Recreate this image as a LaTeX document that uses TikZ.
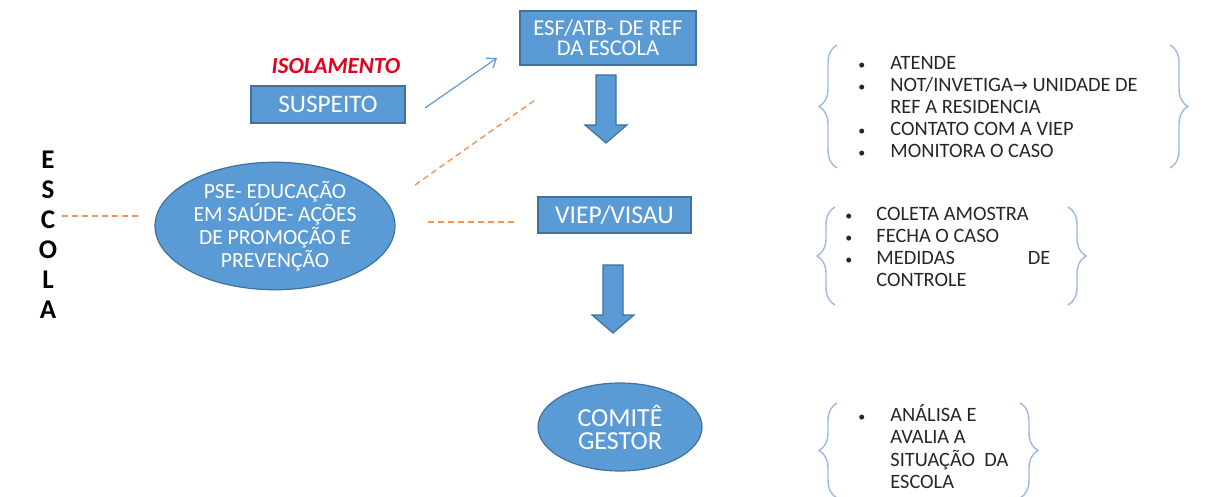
\documentclass[tikz,border=0pt]{standalone}
\usepackage{fontspec}
\setmainfont{Carlito}
\newfontfamily\arrowfont{DejaVu Sans}
\usetikzlibrary{shapes.geometric,decorations.pathreplacing,arrows.meta}
\definecolor{fillblue}{HTML}{5B9BD5}
\definecolor{lineblue}{HTML}{41719C}
\definecolor{dashorange}{HTML}{F0945C}
\definecolor{bracecol}{HTML}{9DB9E0}
\definecolor{isored}{HTML}{E2001A}
\definecolor{listtext}{HTML}{262626}
\tikzset{%
  bluebox/.style={rectangle,draw=lineblue,fill=fillblue,text=white,line width=0.6pt,inner sep=0pt,align=center},
  blueoval/.style={ellipse,draw=lineblue,fill=fillblue,text=white,line width=0.6pt,inner sep=0pt,align=center},
  dashline/.style={dashorange,line width=0.7pt,dash pattern=on 3pt off 2pt},
  bracket/.style={bracecol,line width=0.7pt,decorate,decoration={brace,amplitude=#1,aspect=0.5}},
  bracket/.default=9pt,
  itemlist/.style={anchor=north west,inner sep=0pt,align=left,text=listtext,
    font=\fontsize{10.2}{11}\selectfont}
}
\NewDocumentCommand\fatarrow{mmmm}{% x, top, head start, tip
  \filldraw[fill=fillblue,draw=lineblue,line width=0.6pt]
    (#1-10,#2) -- (#1+10,#2) -- (#1+10,#3) -- (#1+21,#3) -- (#1,#4)
    -- (#1-21,#3) -- (#1-10,#3) -- cycle;
}
\newcommand\dotitem{{\fontsize{7}{7}\selectfont\textbullet}}
\begin{document}
\begin{tikzpicture}[x=0.5pt,y=-0.5pt]
  \useasboundingbox (0,0) rectangle (1208,497);
  %% left title
  \node[inner sep=0pt,align=center,font=\fontsize{13.5}{15}\selectfont\bfseries] (escola) at (48,235) {E\\S\\C\\O\\L\\A};
  %% boxes and ovals
  \node[font=\fontsize{11.5}{12}\selectfont\bfseries\itshape,text=isored] (isol) at (336,66) {ISOLAMENTO};
  \node[bluebox,minimum width=77pt,minimum height=18.5pt,font=\fontsize{12.6}{13}\selectfont] (susp) at (328,104.5) {SUSPEITO};
  \node[bluebox,minimum width=88pt,minimum height=27pt,font=\fontsize{11.3}{9.8}\selectfont] (esf) at (608,38) {ESF/ATB- DE REF\\DA ESCOLA};
  \node[bluebox,minimum width=76.5pt,minimum height=18pt,font=\fontsize{12.8}{13}\selectfont] (viep) at (614.5,215) {VIEP/VISAU};
  \node[blueoval,minimum width=120pt,minimum height=63pt,font=\fontsize{10.8}{10}\selectfont] (pse) at (275,226)
    {PSE- EDUCAÇÃO\\EM SAÚDE- AÇÕES\\DE PROMOÇÃO E\\PREVENÇÃO};
  \node[blueoval,minimum width=82pt,minimum height=44pt,font=\fontsize{13}{11.5}\selectfont] (comite) at (620,427) {COMITÊ\\GESTOR};
  %% connectors
  \coordinate (s0) at (425,108);
  \coordinate (s1) at (497,58);
  \draw[fillblue,line width=0.6pt,-{Straight Barb[length=4pt,width=6pt]}] (s0) -- (s1);
  \fatarrow{606}{75}{125}{143}
  \fatarrow{613}{265}{315}{333}
  \coordinate (d0) at (62,216);
  \coordinate (d1) at (140,216);
  \coordinate (d2) at (428,222);
  \coordinate (d3) at (517,222);
  \coordinate (d4) at (415,185);
  \coordinate (d5) at (535,100);
  \draw[dashline] (d0) -- (d1);
  \draw[dashline] (d2) -- (d3);
  \draw[dashline] (d4) -- (d5);
  %% first list
  \draw[bracket] (837,168) -- (837,45);
  \draw[bracket] (1170,45) -- (1170,168);
  \node[itemlist] (list1) at (858,54) {%
    \begin{tabular}{@{}p{16pt}@{}l@{}}
      \dotitem & ATENDE\\
      \dotitem & NOT/INVETIGA{\arrowfont\fontsize{9}{9}\selectfont→} UNIDADE DE\\
               & REF A RESIDENCIA\\
      \dotitem & CONTATO COM A VIEP\\
      \dotitem & MONITORA O CASO
    \end{tabular}};
  %% second list
  \draw[bracket] (835,305) -- (835,207);
  \draw[bracket] (1068,207) -- (1068,305);
  \node[itemlist] (list2) at (845,205) {%
    \begin{tabular}{@{}p{15.5pt}@{}p{87pt}@{}}
      \dotitem & COLETA AMOSTRA\\
      \dotitem & FECHA O CASO\\
      \dotitem & MEDIDAS \hfill DE\\
               & CONTROLE
    \end{tabular}};
  %% third list
  \draw[bracket] (837,498) -- (837,403);
  \draw[bracket] (1020,403) -- (1020,498);
  \node[itemlist] (list3) at (858,404) {%
    \begin{tabular}{@{}p{16pt}@{}l@{}}
      \dotitem & ANÁLISA E\\
               & AVALIA A\\
               & SITUAÇÃO\ \ DA\\
               & ESCOLA
    \end{tabular}};
\end{tikzpicture}
\end{document}
